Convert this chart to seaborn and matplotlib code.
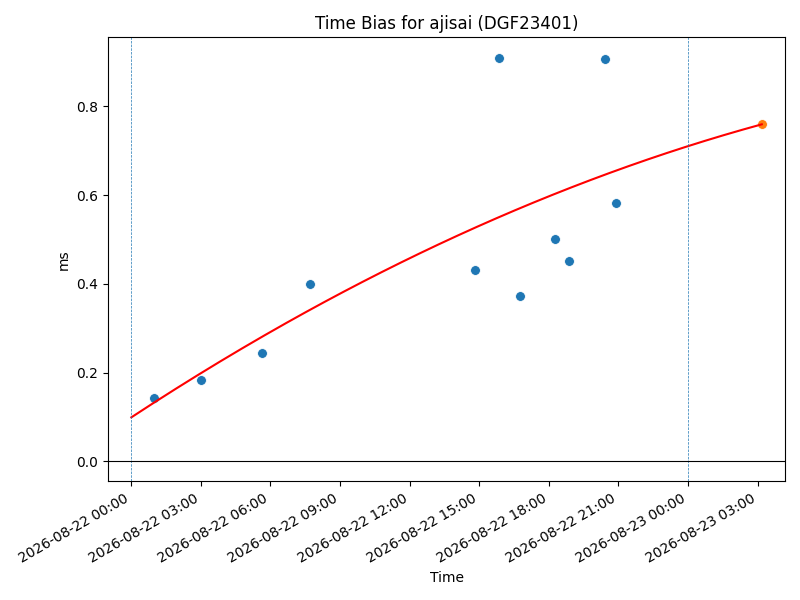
import matplotlib
matplotlib.use("Agg")
import matplotlib.pyplot as plt
import matplotlib.dates as mdates
import seaborn as sns
import numpy as np
import pandas as pd

day_start = pd.Timestamp("2026-08-22 00:00")
day_end = pd.Timestamp("2026-08-23 00:00")

obs_times = pd.to_datetime([
    "2026-08-22 00:59", "2026-08-22 03:01", "2026-08-22 05:37",
    "2026-08-22 07:41", "2026-08-22 14:48", "2026-08-22 15:50",
    "2026-08-22 16:45", "2026-08-22 18:16", "2026-08-22 18:52",
    "2026-08-22 20:25", "2026-08-22 20:53",
])
obs_bias = [0.142, 0.184, 0.243, 0.400, 0.431, 0.910, 0.373, 0.501, 0.452, 0.906, 0.582]

pred_time = pd.Timestamp("2026-08-23 03:11")

# quadratic fit of bias (ms) against hours since day_start
fit_coef = [-0.000368, 0.0343, 0.099]

fit_hours = np.linspace(0, (pred_time - day_start) / pd.Timedelta(hours=1), 200)
fit_times = day_start + pd.to_timedelta(fit_hours, unit="h")
fit_bias = np.polyval(fit_coef, fit_hours)
pred_bias = fit_bias[-1]

obs = pd.DataFrame({"time": obs_times, "bias": obs_bias})
fit = pd.DataFrame({"time": fit_times, "bias": fit_bias})

fig, ax = plt.subplots(figsize=(8, 6), dpi=100)
sns.lineplot(data=fit, x="time", y="bias", color="red", ax=ax)
sns.scatterplot(data=obs, x="time", y="bias", color="C0", s=50, ax=ax)
sns.scatterplot(x=[pred_time], y=[pred_bias], color="C1", s=50, ax=ax)
ax.axvline(day_start, linestyle="--", linewidth=0.5, color="C0")
ax.axvline(day_end, linestyle="--", linewidth=0.5, color="C0")
ax.axhline(0, color="black", linewidth=0.8)

ax.set_xlim(day_start - pd.Timedelta(hours=1), pred_time + pd.Timedelta(hours=1))
ax.xaxis.set_major_locator(mdates.HourLocator(byhour=range(0, 24, 3)))
ax.xaxis.set_major_formatter(mdates.DateFormatter("%Y-%m-%d %H:%M"))
ax.set_title("Time Bias for ajisai (DGF23401)")
ax.set_xlabel("Time")
ax.set_ylabel("ms")
fig.autofmt_xdate()
fig.tight_layout()
fig.savefig("out.png")
